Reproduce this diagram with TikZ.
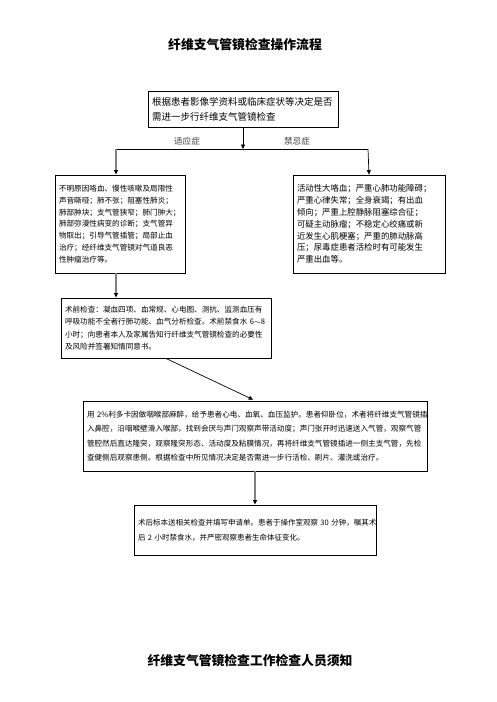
\documentclass[tikz,border=0pt]{standalone}
\usepackage{fontspec}
\setmainfont{Noto Sans CJK SC}
\usetikzlibrary{arrows.meta}
\begin{document}
\begin{tikzpicture}[x=1pt,y=-1pt,
  box/.style={draw, line width=0.9pt, inner xsep=4pt, inner ysep=0pt, align=left, anchor=center},
  small/.style={font=\fontsize{7.6}{11.8}\selectfont},
  tip/.style={-{Triangle[length=4.5pt,width=4pt,color=black]}},
  thinline/.style={draw=black, line width=0.7pt},
  greyline/.style={draw=black!50, line width=1.8pt},
  ttl/.style={font=\fontsize{12.8}{14}\selectfont\bfseries},
  lbl/.style={font=\fontsize{8.6}{10}\selectfont, text=black!75}
]
\useasboundingbox (0,0) rectangle (496,702);
\fill[white] (0,0) rectangle (496,702);

\node[ttl] (t1) at (245,45) {纤维支气管镜检查操作流程};

\node[box, text width=182pt, minimum height=36pt, font=\fontsize{9.5}{15}\selectfont] (b1) at (243,109)
  {根据患者影像学资料或临床症状等决定是否\\需进一步行纤维支气管镜检查};

\coordinate (hl) at (116,149);
\coordinate (hr) at (368,149);

\node[box, small, text width=122pt, minimum height=98pt] (b2) at (120,224)
  {不明原因咯血、慢性咳嗽及局限性\\声音嘶哑；肺不张；阻塞性肺炎；\\肺部肿块；支气管狭窄；肺门肿大；\\肺部弥漫性病变的诊断；支气管异\\物取出；引导气管插管；局部止血\\治疗；经纤维支气管镜对气道良恶\\性肿瘤治疗等。};

\node[box, font=\fontsize{8.4}{11.8}\selectfont, text width=144pt, minimum height=98pt] (b3) at (369,224)
  {活动性大咯血；严重心肺功能障碍；\\严重心律失常；全身衰竭；有出血\\倾向；严重上腔静脉阻塞综合征；\\可疑主动脉瘤；不稳定心绞痛或新\\近发生心肌梗塞；严重的肺动脉高\\压；尿毒症患者活检时有可能发生\\严重出血等。};

\node[box, font=\fontsize{7.6}{12.6}\selectfont, text width=202pt, minimum height=60pt] (b4) at (166,328)
  {术前检查：凝血四项、血常规、心电图、测抗、监测血压有\\呼吸功能不全者行肺功能、血气分析检查。术前禁食水 6$\sim$8\\小时；向患者本人及家属告知行纤维支气管镜检查的必要性\\及风险并签署知情同意书。};

\node[box, font=\fontsize{7.6}{14.5}\selectfont, text width=336pt, minimum height=70pt] (b5) at (255,436)
  {用 2\%利多卡因做咽喉部麻醉，给予患者心电、血氧、血压监护。患者仰卧位，术者将纤维支气管镜插\\入鼻腔，沿咽喉壁滑入喉部，找到会厌与声门观察声带活动度；声门张开时迅速送入气管，观察气管\\管腔然后直达隆突，观察隆突形态、活动度及粘膜情况，再将纤维支气管镜插进一侧主支气管，先检\\查健侧后观察患侧。根据检查中所见情况决定是否需进一步行活检、刷片、灌洗或治疗。};

\node[box, font=\fontsize{7.5}{15}\selectfont, text width=234pt, minimum height=50pt, text depth=16pt] (b6) at (255,530)
  {术后标本送相关检查并填写申请单。患者于操作室观察~30~分钟，嘱其术\\后~2~小时禁食水，并严密观察患者生命体征变化。};

\node[ttl] (t2) at (250,661) {纤维支气管镜检查工作检查人员须知};

% connectors
\draw[thinline, tip] (b1.south) -- (b1.south |- hl);
\draw[thinline] (hl) -- (hr);
\draw[greyline, tip] (hl) -- (hl |- b2.north);
\draw[thinline, tip] (hr) -- (b3.north);
\node[lbl] (l1) at (187,141) {适应症};
\node[lbl] (l2) at (297,141) {禁忌症};
\draw[greyline, tip] (hl |- b2.south) -- (hl |- b4.north);
\draw[thinline, tip, shorten >=2pt] (b4.south) -- (b5.north);
\draw[greyline, tip] (b5.south) -- (b5.south |- b6.north);
\end{tikzpicture}
\end{document}
